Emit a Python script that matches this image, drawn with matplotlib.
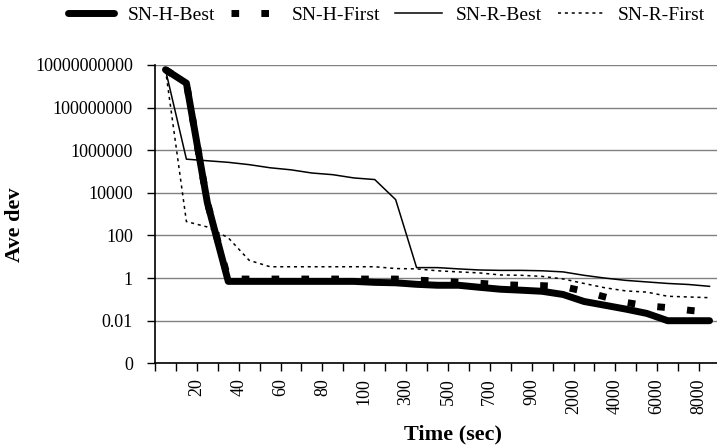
"""Ave dev versus time for the four SN variants (log scale)"""
import numpy as np
from matplotlib import pyplot as plt

# categories on the time axis (sec)
times = ["10", "20", "30", "40", "50", "60", "70", "80", "90", "100",
         "200", "300", "400", "500", "600", "700", "800", "900", "1000",
         "2000", "3000", "4000", "5000", "6000", "7000", "8000", "9000"]

sn_h_best = [6e9, 1.4e9, 3500, 0.7, 0.7, 0.7, 0.7, 0.7, 0.7, 0.7,
             0.63, 0.6, 0.51, 0.46, 0.46, 0.37, 0.3, 0.27, 0.24,
             0.17, 0.08, 0.053, 0.035, 0.022, 0.01, 0.01, 0.01]
sn_h_first = [6e9, 1.4e9, 3500, 0.9, 0.9, 0.9, 0.9, 0.9, 0.9, 0.9,
              0.9, 0.9, 0.8, 0.73, 0.64, 0.57, 0.49, 0.46, 0.44,
              0.40, 0.24, 0.13, 0.072, 0.05, 0.041, 0.031, 0.025]
sn_r_best = [6e9, 3.8e5, 3.2e5, 2.7e5, 2.1e5, 1.5e5, 1.2e5, 8.5e4, 7.1e4, 5e4,
             4.2e4, 4.8e3, 3.1, 3.1, 2.7, 2.4, 2.3, 2.3, 2.2,
             1.95, 1.35, 1.0, 0.78, 0.66, 0.56, 0.5, 0.41]
sn_r_first = [6e9, 450, 250, 78, 6.8, 3.4, 3.4, 3.4, 3.4, 3.4,
              3.4, 2.8, 2.7, 2.2, 1.95, 1.75, 1.4, 1.35, 1.2,
              0.91, 0.56, 0.35, 0.25, 0.22, 0.14, 0.13, 0.12]

y_ticks = [1e-4, 1e-2, 1, 1e2, 1e4, 1e6, 1e8, 1e10]
y_labels = ["0", "0.01", "1", "100", "10000", "1000000", "100000000", "10000000000"]

plt.rcParams['font.family'] = ['Liberation Serif', 'DejaVu Serif']

fig = plt.figure(figsize=(7.17, 4.48), dpi=100)
ax = fig.add_axes([0.2162, 0.189, 0.788, 0.666])

x = np.arange(len(times))
ax.plot(x, sn_h_best, color='black', lw=5, solid_joinstyle='round',
        solid_capstyle='round', label="SN-H-Best", zorder=4)
ax.plot(x, sn_h_first, color='black', lw=5, dashes=(1.1, 3.2),
        dash_capstyle='butt', label="SN-H-First", zorder=5)
ax.plot(x, sn_r_best, color='black', lw=1.1, label="SN-R-Best", zorder=3)
ax.plot(x, sn_r_first, color='black', lw=1.1, dashes=(2, 2.5),
        label="SN-R-First", zorder=3)

ax.set_yscale('log')
ax.set_ylim(1e-4, 1e10)
ax.set_yticks(y_ticks)
ax.set_yticklabels(y_labels)
ax.minorticks_off()
ax.yaxis.grid(True, color='#808080', lw=1)
ax.set_axisbelow(True)

# tick marks on category boundaries, labels every second category
ax.set_xlim(-0.5, len(times) - 0.5)
bounds = np.arange(len(times) + 1) - 0.5
ax.set_xticks(bounds)
ax.set_xticklabels([times[k - 1] if k >= 2 and k % 2 == 0 else "" for k in range(len(bounds))],
                   rotation=90, va='top', ha='center')

ax.tick_params(axis='both', direction='out', length=6, width=1, labelsize=13, color='black')
ax.tick_params(axis='y', pad=10)
ax.tick_params(axis='x', pad=5)
for side in ['top', 'right']:
    ax.spines[side].set_visible(False)
for side in ['left', 'bottom']:
    ax.spines[side].set_linewidth(1.2)

fig.text(0.632, 0.031, "Time (sec)", fontsize=16, fontweight='bold', ha='center', va='center')
fig.text(0.021, 0.498, "Ave dev", fontsize=16, fontweight='bold', rotation=90, ha='center', va='center')

fig.legend(loc='center', bbox_to_anchor=(0.539, 0.967), ncol=4, frameon=False,
           fontsize=14, handlelength=2.4, handletextpad=0.7, columnspacing=0.8)

fig.savefig("out.png", dpi=100)
